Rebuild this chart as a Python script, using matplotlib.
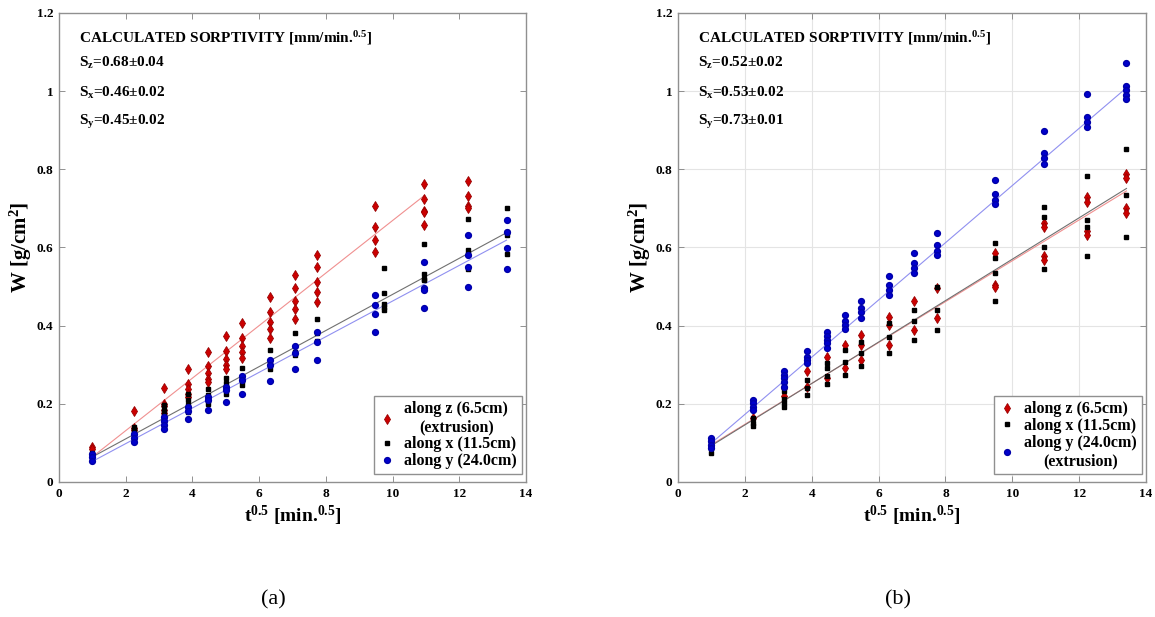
import numpy as np
import matplotlib
matplotlib.use('Agg')
import matplotlib.pyplot as plt
from matplotlib.ticker import FuncFormatter

plt.rcParams['font.family'] = 'Liberation Serif'
plt.rcParams['font.weight'] = 'bold'
plt.rcParams['axes.labelweight'] = 'bold'
plt.rcParams['mathtext.fontset'] = 'custom'
plt.rcParams['mathtext.rm'] = 'Liberation Serif:bold'
plt.rcParams['mathtext.it'] = 'Liberation Serif:bold'
plt.rcParams['mathtext.bf'] = 'Liberation Serif:bold'

# sqrt(t) sampling points [min^0.5]
xs = [1.0, 2.236, 3.162, 3.873, 4.472, 5.0, 5.477, 6.325, 7.071, 7.746,
      9.487, 10.954, 12.247, 13.416]
xs_a_x = [1.0, 2.236, 3.162, 3.873, 4.472, 5.0, 5.477, 6.325, 7.071, 7.746,
          9.75, 10.954, 12.247, 13.416]

# (a) W [g/cm2] readings at each x
a_z = [[0.089, 0.084], [0.181, 0.139, 0.132], [0.240, 0.200, 0.194, 0.185, 0.177],
       [0.288, 0.252, 0.239, 0.226, 0.217], [0.333, 0.296, 0.280, 0.264, 0.256],
       [0.373, 0.335, 0.314, 0.300, 0.288], [0.408, 0.369, 0.348, 0.333, 0.318],
       [0.473, 0.435, 0.409, 0.392, 0.369], [0.529, 0.497, 0.462, 0.443, 0.417],
       [0.580, 0.550, 0.513, 0.486, 0.460], [0.705, 0.652, 0.618, 0.588],
       [0.762, 0.725, 0.693, 0.690, 0.657], [0.770, 0.731, 0.706, 0.702], []]
a_x = [[0.075, 0.068], [0.141, 0.132, 0.124], [0.196, 0.183, 0.171, 0.162],
       [0.226, 0.209, 0.196, 0.179], [0.239, 0.222, 0.209, 0.200],
       [0.266, 0.253, 0.239, 0.224], [0.292, 0.269, 0.258, 0.247],
       [0.339, 0.303, 0.290], [0.381, 0.333, 0.324], [0.418, 0.380, 0.362],
       [0.548, 0.484, 0.455, 0.448, 0.441], [0.610, 0.533, 0.520, 0.516],
       [0.674, 0.593, 0.584, 0.544], [0.701, 0.640, 0.631, 0.584]]
a_y = [[0.072, 0.064, 0.054], [0.124, 0.113, 0.102], [0.166, 0.155, 0.145, 0.136],
       [0.192, 0.181, 0.162], [0.217, 0.211, 0.185], [0.243, 0.235, 0.205],
       [0.270, 0.262, 0.224], [0.311, 0.299, 0.258], [0.348, 0.331, 0.288],
       [0.384, 0.358, 0.313], [0.479, 0.452, 0.431, 0.384],
       [0.563, 0.497, 0.490, 0.445], [0.633, 0.580, 0.550, 0.499],
       [0.670, 0.640, 0.600, 0.544]]

# (b)
b_z = [[0.104, 0.091], [0.164], [0.240, 0.219], [0.285, 0.244], [0.321, 0.267],
       [0.351, 0.291], [0.376, 0.351, 0.313], [0.423, 0.402, 0.351],
       [0.462, 0.389], [0.496, 0.419], [0.585, 0.503, 0.498],
       [0.662, 0.653, 0.577, 0.568], [0.730, 0.717, 0.641, 0.632],
       [0.788, 0.777, 0.700, 0.687]]
b_x = [[0.100, 0.087, 0.074], [0.164, 0.152, 0.144], [0.232, 0.212, 0.202, 0.192],
       [0.261, 0.240, 0.223], [0.304, 0.291, 0.270, 0.251], [0.338, 0.308, 0.274],
       [0.359, 0.330, 0.296], [0.406, 0.372, 0.330], [0.440, 0.411, 0.364],
       [0.498, 0.440, 0.389], [0.611, 0.572, 0.534, 0.462],
       [0.704, 0.679, 0.602, 0.544], [0.783, 0.670, 0.653, 0.578],
       [0.852, 0.734, 0.628]]
b_y = [[0.112, 0.104, 0.095, 0.087], [0.210, 0.202, 0.193, 0.183],
       [0.283, 0.274, 0.266, 0.255, 0.244], [0.336, 0.321, 0.313, 0.304],
       [0.383, 0.374, 0.364, 0.355, 0.344], [0.428, 0.411, 0.402, 0.391],
       [0.463, 0.445, 0.436, 0.419], [0.527, 0.504, 0.491, 0.479],
       [0.585, 0.560, 0.547, 0.534], [0.636, 0.606, 0.592, 0.581],
       [0.773, 0.737, 0.721, 0.711], [0.899, 0.842, 0.828, 0.813],
       [0.994, 0.934, 0.922, 0.909], [1.073, 1.013, 1.003, 0.990, 0.979]]

# linear fits: slope, intercept, x end
fit_a = {'z': (0.0672, -0.003, 10.954), 'x': (0.0462, 0.018, 13.416), 'y': (0.0456, 0.007, 13.416)}
fit_b = {'z': (0.0523, 0.043, 13.416), 'x': (0.0530, 0.040, 13.416), 'y': (0.0732, 0.0265, 13.416)}

sorp_a = ['0.68\u00b10.04', '0.46\u00b10.02', '0.45\u00b10.02']
sorp_b = ['0.52\u00b10.02', '0.53\u00b10.02', '0.73\u00b10.01']

labels_a = ['along z (6.5cm)\n(extrusion)', 'along x (11.5cm)', 'along y (24.0cm)']
labels_b = ['along z (6.5cm)', 'along x (11.5cm)', 'along y (24.0cm)\n(extrusion)']


def flat(xv, groups):
    px, py = [], []
    for x, g in zip(xv, groups):
        px += [x] * len(g)
        py += g
    return px, py


def panel(ax, xz, z, xx, xd, yd, fits, sorp, labels, grid):
    styles = {
        'z': dict(marker='d', ms=5.5, mfc='#cc0000', mec='#990000', mew=0.6, ls='none'),
        'x': dict(marker='s', ms=3.2, mfc='black', mec='black', ls='none'),
        'y': dict(marker='o', ms=4.2, mfc='#0000cc', mec='#0000aa', ls='none'),
    }
    lcol = {'z': '#f09090', 'x': '#707070', 'y': '#9090f0'}
    handles = []
    for key, xv, g in [('z', xz, z), ('x', xx, xd), ('y', xs, yd)]:
        px, py = flat(xv, g)
        h, = ax.plot(px, py, **styles[key])
        handles.append(h)
    for key in ['z', 'x', 'y']:
        s, b, xe = fits[key]
        xl = np.array([1.0, xe])
        ax.plot(xl, s * xl + b, color=lcol[key], lw=0.8, zorder=1)

    ax.set_xlim(0, 14)
    ax.set_ylim(0, 1.2)
    ax.set_xticks(np.arange(0, 15, 2))
    ax.set_yticks(np.arange(0, 1.21, 0.2))
    ax.yaxis.set_major_formatter(FuncFormatter(lambda v, p: '%g' % round(v, 1)))
    ax.tick_params(direction='in', top=True, right=True, length=4, width=0.6,
                   color='#808080', labelsize=9.5, pad=4)
    for lab in ax.get_xticklabels() + ax.get_yticklabels():
        lab.set_fontweight('bold')
    for sp in ax.spines.values():
        sp.set_color('#909090')
        sp.set_linewidth(1.0)
    if grid:
        ax.grid(True, color='#e4e4e4', lw=0.8)
        ax.set_axisbelow(True)

    ax.set_xlabel('t$^{0.5}$ [min.$^{0.5}$]', fontsize=14, labelpad=3)
    ax.set_ylabel('W [g/cm$^2$]', fontsize=15, labelpad=2)

    ax.text(0.6, 1.136, 'CALCULATED SORPTIVITY [mm/min.$^{0.5}$]', fontsize=11, va='center')
    for sub, val, yy in zip(['z', 'x', 'y'], sorp, [1.072, 0.995, 0.921]):
        ax.text(0.6, yy, 'S$_{%s}$=%s' % (sub, val), fontsize=11, va='center')

    leg = ax.legend(handles, labels, loc='lower right',
                    bbox_to_anchor=(1 - 4 / 467, 8 / 469), borderaxespad=0,
                    fancybox=False, edgecolor='#909090', framealpha=1,
                    fontsize=11.5, handlelength=1.0, handletextpad=0.6,
                    labelspacing=0.05, borderpad=0.3)
    leg.get_frame().set_linewidth(1.0)
    for t in leg.get_texts():
        t.set_multialignment('center')


fig = plt.figure(figsize=(11.55, 6.17), dpi=100)
ax1 = fig.add_axes([59 / 1155, 1 - 482 / 617, 467 / 1155, 469 / 617])
ax2 = fig.add_axes([678 / 1155, 1 - 482 / 617, 468 / 1155, 469 / 617])

panel(ax1, xs, a_z, xs_a_x, a_x, a_y, fit_a, sorp_a, labels_a, grid=False)
panel(ax2, xs, b_z, xs, b_x, b_y, fit_b, sorp_b, labels_b, grid=True)

fig.text(273 / 1155, 1 - 600 / 617, '(a)', fontsize=16, fontweight='normal', ha='center', va='center')
fig.text(898 / 1155, 1 - 600 / 617, '(b)', fontsize=16, fontweight='normal', ha='center', va='center')

fig.savefig('out.png', dpi=100)
